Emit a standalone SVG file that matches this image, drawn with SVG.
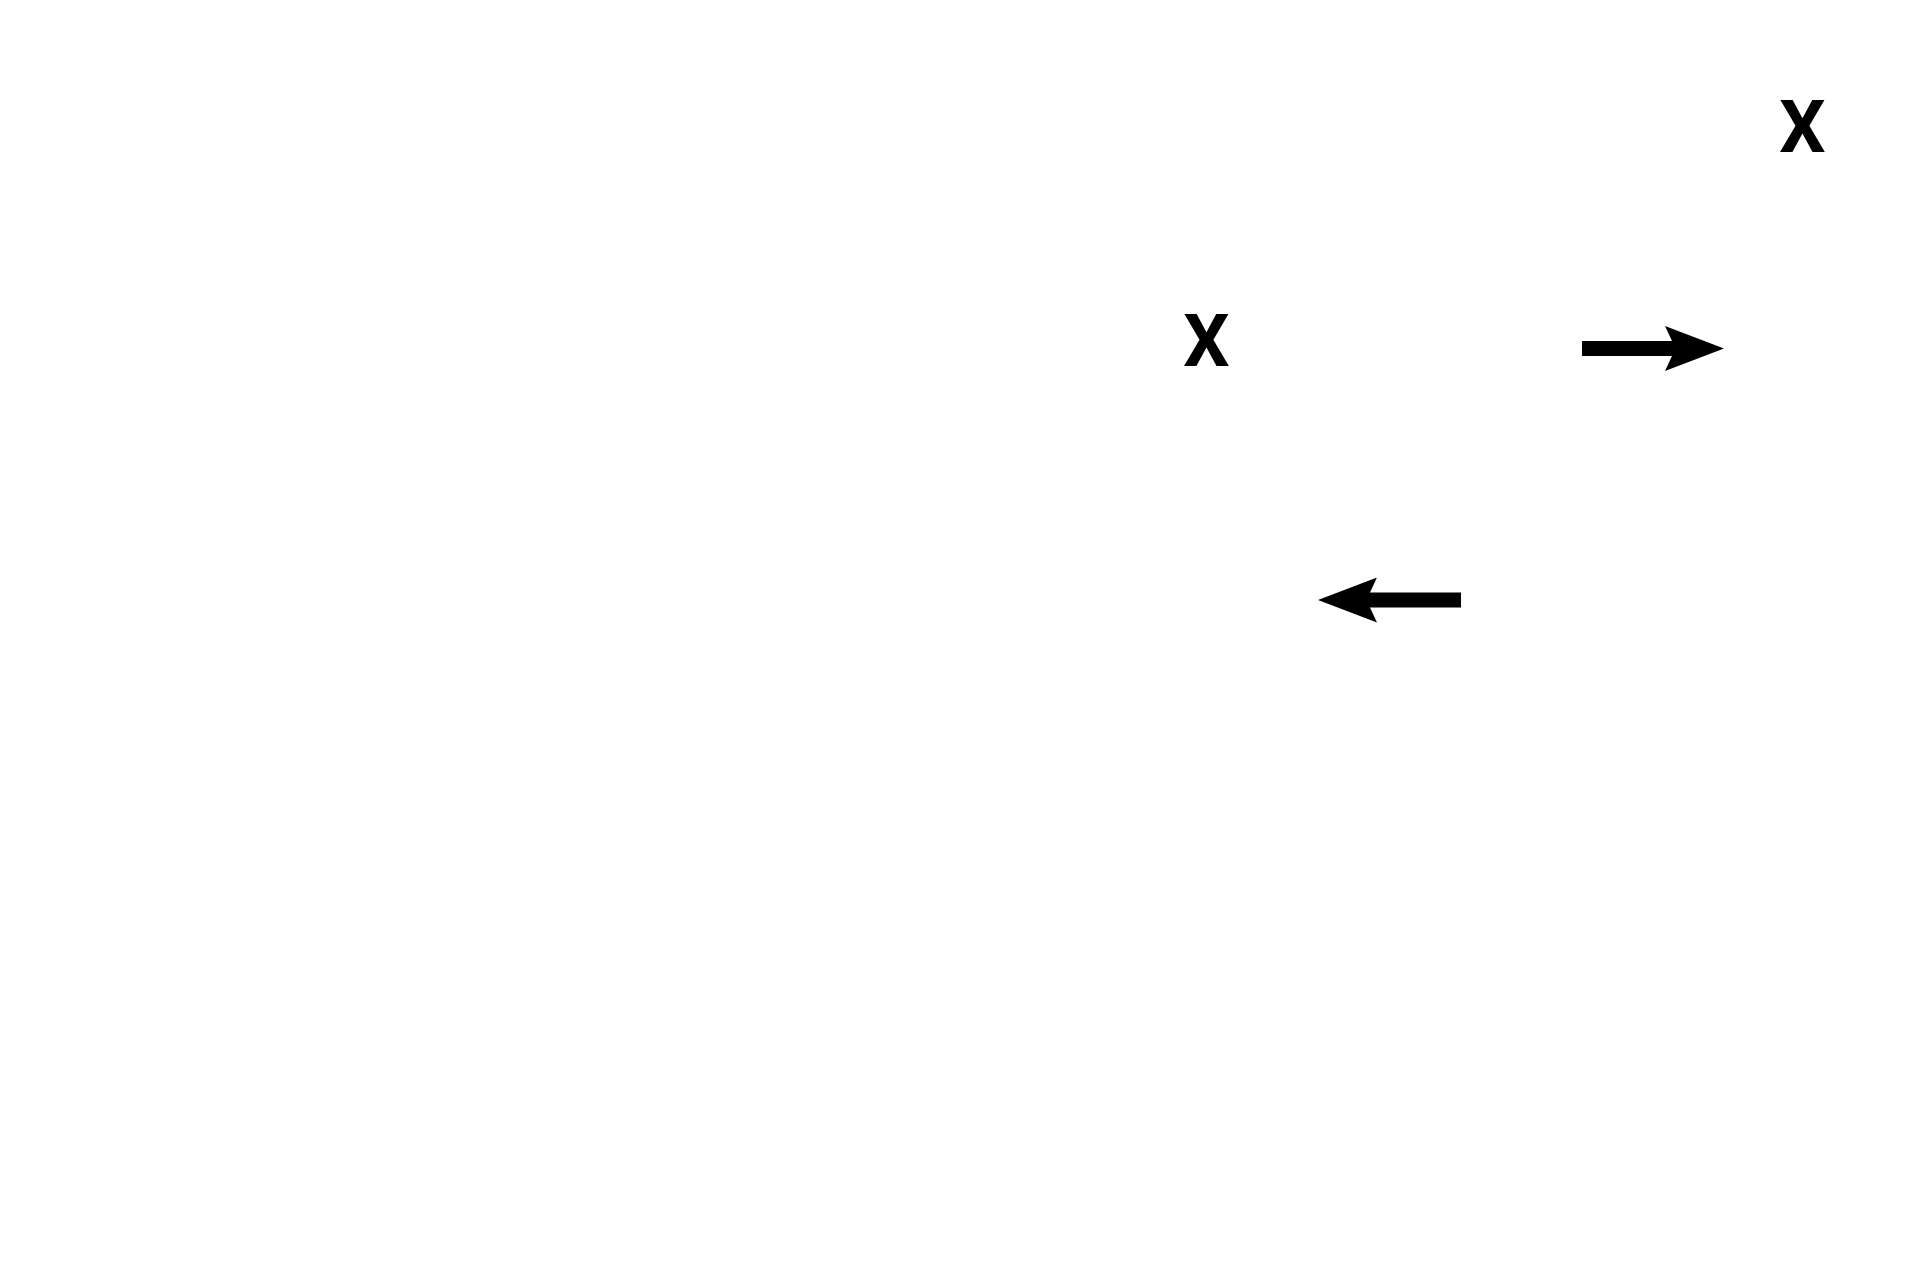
<svg xmlns="http://www.w3.org/2000/svg" width="1920" height="1280" viewBox="0 0 1920 1280">
  <style>
    .lbl { font-family: Roboto, "Liberation Sans", sans-serif; font-weight: bold; font-size: 73px; fill: #000; text-anchor: middle; }
    .arr { stroke: #000; stroke-width: 15; fill: none; marker-end: url(#head); }
  </style>
  <defs>
    <marker id="head" markerUnits="userSpaceOnUse" markerWidth="59" markerHeight="45" viewBox="0 0 59 45" refX="12" refY="22.5" orient="auto">
      <path d="M0,0 L59,22.5 L0,45 L10.5,22.5 Z" fill="#000"/>
    </marker>
  </defs>
  <rect x="0" y="0" width="1920" height="1280" fill="#fff"/>
  <g id="node-x1">
    <text class="lbl" x="1802.5" y="152">X</text>
  </g>
  <g id="node-x2">
    <text class="lbl" x="1206.5" y="366">X</text>
  </g>
  <g id="connectors">
    <line class="arr" x1="1582" y1="348.5" x2="1677" y2="348.5"/>
    <line class="arr" x1="1461" y1="600" x2="1365" y2="600"/>
  </g>
</svg>
